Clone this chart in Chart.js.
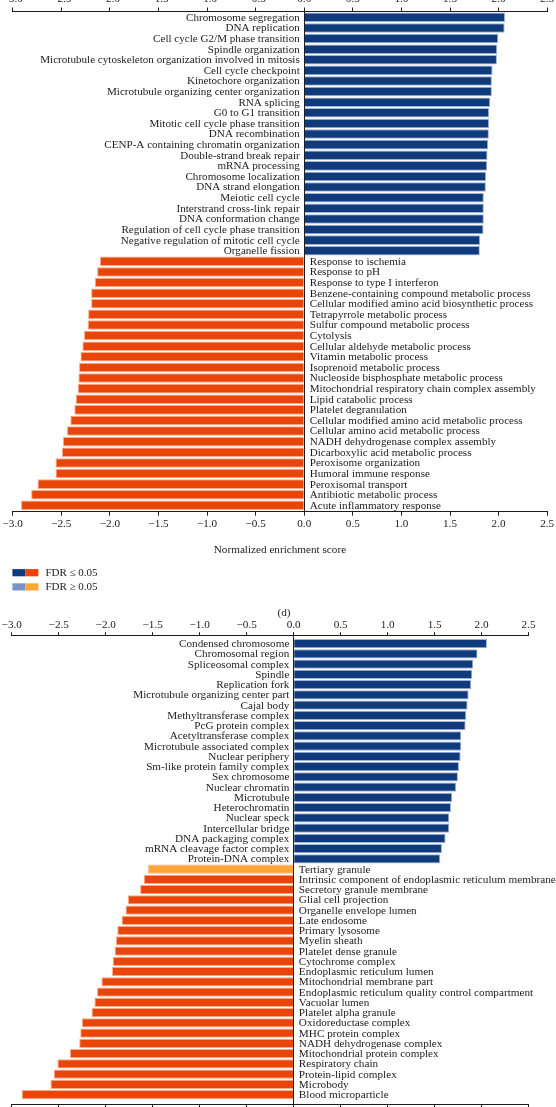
<!DOCTYPE html>
<html>
<head>
<meta charset="utf-8">
<script src="https://cdn.jsdelivr.net/npm/chart.js@4.4.0/dist/chart.umd.min.js"></script>
<style>
html,body{margin:0;padding:0;background:#fff;}
body{width:556px;height:1107px;overflow:hidden;position:relative;}
canvas{position:absolute;left:0;}
#c1{top:0px;}
#c2{top:620px;}
</style>
</head>
<body>
<canvas id="c1" width="556" height="620"></canvas>
<canvas id="c2" width="556" height="514"></canvas>
<script>
// ---------- data ----------
const xTickValues = [-3.0, -2.5, -2.0, -1.5, -1.0, -0.5, 0.0, 0.5, 1.0, 1.5, 2.0, 2.5];

const bpCategories = [
  "Chromosome segregation","DNA replication","Cell cycle G2/M phase transition","Spindle organization",
  "Microtubule cytoskeleton organization involved in mitosis","Cell cycle checkpoint","Kinetochore organization",
  "Microtubule organizing center organization","RNA splicing","G0 to G1 transition","Mitotic cell cycle phase transition",
  "DNA recombination","CENP-A containing chromatin organization","Double-strand break repair","mRNA processing",
  "Chromosome localization","DNA strand elongation","Meiotic cell cycle","Interstrand cross-link repair",
  "DNA conformation change","Regulation of cell cycle phase transition","Negative regulation of mitotic cell cycle",
  "Organelle fission",
  "Response to ischemia","Response to pH","Response to type I interferon","Benzene-containing compound metabolic process",
  "Cellular modified amino acid biosynthetic process","Tetrapyrrole metabolic process","Sulfur compound metabolic process",
  "Cytolysis","Cellular aldehyde metabolic process","Vitamin metabolic process","Isoprenoid metabolic process",
  "Nucleoside bisphosphate metabolic process","Mitochondrial respiratory chain complex assembly","Lipid catabolic process",
  "Platelet degranulation","Cellular modified amino acid metabolic process","Cellular amino acid metabolic process",
  "NADH dehydrogenase complex assembly","Dicarboxylic acid metabolic process","Peroxisome organization",
  "Humoral immune response","Peroxisomal transport","Antibiotic metabolic process","Acute inflammatory response"
];
const bpValues = [
  2.066, 2.062, 1.997, 1.986, 1.983, 1.938, 1.931, 1.931, 1.914, 1.903, 1.903, 1.900,
  1.893, 1.886, 1.883, 1.872, 1.869, 1.848, 1.848, 1.848, 1.845, 1.810, 1.807,
  -2.103, -2.131, -2.155, -2.193, -2.193, -2.224, -2.228, -2.266, -2.283, -2.303, -2.317, -2.324,
  -2.331, -2.352, -2.366, -2.407, -2.441, -2.483, -2.493, -2.559, -2.559, -2.745, -2.810, -2.914
];
const bpSignificant = bpValues.map(() => true);

const ccCategories = [
  "Condensed chromosome","Chromosomal region","Spliceosomal complex","Spindle","Replication fork",
  "Microtubule organizing center part","Cajal body","Methyltransferase complex","PcG protein complex",
  "Acetyltransferase complex","Microtubule associated complex","Nuclear periphery","Sm-like protein family complex",
  "Sex chromosome","Nuclear chromatin","Microtubule","Heterochromatin","Nuclear speck","Intercellular bridge",
  "DNA packaging complex","mRNA cleavage factor complex","Protein-DNA complex",
  "Tertiary granule","Intrinsic component of endoplasmic reticulum membrane","Secretory granule membrane",
  "Glial cell projection","Organelle envelope lumen","Late endosome","Primary lysosome","Myelin sheath",
  "Platelet dense granule","Cytochrome complex","Endoplasmic reticulum lumen","Mitochondrial membrane part",
  "Endoplasmic reticulum quality control compartment","Vacuolar lumen","Platelet alpha granule",
  "Oxidoreductase complex","MHC protein complex","NADH dehydrogenase complex","Mitochondrial protein complex",
  "Respiratory chain","Protein-lipid complex","Microbody","Blood microparticle"
];
const ccValues = [
  2.057, 1.957, 1.911, 1.901, 1.890, 1.862, 1.851, 1.837, 1.830, 1.784, 1.784, 1.777,
  1.759, 1.748, 1.730, 1.688, 1.674, 1.656, 1.656, 1.617, 1.578, 1.560,
  -1.549, -1.595, -1.634, -1.764, -1.789, -1.831, -1.877, -1.891, -1.905, -1.926, -1.933,
  -2.046, -2.092, -2.120, -2.151, -2.254, -2.271, -2.282, -2.380, -2.514, -2.553, -2.588, -2.894
];
const ccSignificant = ccValues.map((v, i) => ccCategories[i] !== "Tertiary granule");

const legendLabels = ["FDR \u2264 0.05", "FDR \u2265 0.05"];
const panelLabel = "(d)";

// ---------- styling ----------
const COLORS = {
  upSig: '#0f3a7b', upNs: '#7895c6', downSig: '#ea4508', downNs: '#fca535',
  upBorder: '#9fb3d8', downBorder: '#f5ad8c', text: '#1e1b1c'
};
const FONT_FAMILY = '"Liberation Serif", "Times New Roman", serif';
Chart.defaults.font.family = FONT_FAMILY;
Chart.defaults.font.size = 11.2;
Chart.defaults.color = COLORS.text;

const fmt = v => (v < 0 ? '\u2212' : '') + Math.abs(v).toFixed(1);

const labelPlugin = {
  id: 'termLabels',
  afterDatasetsDraw(chart, args, opts) {
    const {ctx, scales: {x, y}} = chart;
    const x0 = x.getPixelForValue(0);
    const data = chart.data.datasets[0].data;
    ctx.save();
    ctx.font = opts.fontSize + 'px ' + FONT_FAMILY;
    ctx.fillStyle = COLORS.text;
    ctx.textBaseline = 'middle';
    chart.data.labels.forEach((lab, i) => {
      const py = y.getPixelForValue(i);
      if (data[i].x >= 0) { ctx.textAlign = 'right'; ctx.fillText(lab, x0 - opts.gapLeft, py + 0.5); }
      else { ctx.textAlign = 'left'; ctx.fillText(lab, x0 + opts.gapRight, py + 0.5); }
    });
    ctx.restore();
  }
};

// legend with paired swatches + panel tag, drawn under the first chart
const fdrLegendPlugin = {
  id: 'fdrLegend',
  afterDraw(chart, args, opts) {
    if (!opts.show) return;
    const ctx = chart.ctx;
    ctx.save();
    const rows = [[COLORS.upSig, COLORS.downSig], [COLORS.upNs, COLORS.downNs]];
    rows.forEach((pair, r) => {
      const y = opts.y + r * opts.rowGap;
      ctx.fillStyle = pair[0]; ctx.fillRect(opts.x, y - 3.6, 13, 7.2);
      ctx.fillStyle = pair[1]; ctx.fillRect(opts.x + 13, y - 3.6, 13, 7.2);
      ctx.fillStyle = COLORS.text;
      ctx.font = '11px ' + FONT_FAMILY;
      ctx.textAlign = 'left'; ctx.textBaseline = 'middle';
      ctx.fillText(legendLabels[r], opts.x + 33, y + 0.5);
    });
    ctx.font = '11.2px ' + FONT_FAMILY;
    ctx.textAlign = 'center'; ctx.textBaseline = 'middle';
    ctx.fillText(panelLabel, opts.tagX, opts.tagY);
    ctx.restore();
  }
};

function xAxis(position, cfg) {
  return {
    type: 'linear', position: position, min: -3, max: 2.5,
    afterBuildTicks: s => { s.ticks = xTickValues.map(v => ({value: v})); },
    afterFit: s => { s.height = cfg.height; },
    ticks: { callback: fmt, padding: cfg.pad, maxRotation: 0, autoSkip: false, font: {size: 11.2} },
    grid: {
      drawOnChartArea: position === 'bottom',
      color: c => (c.tick && c.tick.value === 0) ? COLORS.text : 'rgba(0,0,0,0)',
      tickColor: COLORS.text, tickLength: cfg.tl, lineWidth: 1
    },
    border: { display: true, color: COLORS.text, width: 1 },
    title: cfg.title ? { display: true, text: cfg.title, font: {size: 11.2}, padding: {top: 0, bottom: 0.7} } : { display: false },
    z: 1
  };
}

function makeChart(id, cats, vals, sig, cfg) {
  const colors = vals.map((v, i) => v >= 0 ? (sig[i] ? COLORS.upSig : COLORS.upNs) : (sig[i] ? COLORS.downSig : COLORS.downNs));
  const borders = vals.map(v => v >= 0 ? COLORS.upBorder : COLORS.downBorder);
  return new Chart(document.getElementById(id), {
    type: 'bar',
    plugins: [labelPlugin, fdrLegendPlugin],
    data: {
      labels: cats,
      datasets: [{
        data: vals.map((v, i) => ({x: v, y: i})),
        backgroundColor: colors,
        borderColor: borders,
        borderWidth: 1,
        borderSkipped: 'start',
        categoryPercentage: cfg.catPct,
        barPercentage: 1
      }]
    },
    options: {
      indexAxis: 'y',
      responsive: false,
      animation: false,
      events: [],
      layout: { padding: { left: cfg.left, right: cfg.right, top: 0, bottom: cfg.bottomPad } },
      plugins: {
        legend: { display: false }, tooltip: { enabled: false },
        termLabels: { fontSize: cfg.labelSize, gapLeft: cfg.gapLeft, gapRight: cfg.gapRight },
        fdrLegend: cfg.legend || { show: false }
      },
      scales: {
        y: {
          type: 'linear', display: false, reverse: true, min: cfg.ymin, max: cfg.ymax,
          offset: false, grace: 0, bounds: 'data',
          grid: { offset: false },
          afterBuildTicks: s => { s.ticks = cats.map((c, i) => ({value: i})); },
          afterDataLimits: s => { s.min = cfg.ymin; s.max = cfg.ymax; }
        },
        x: xAxis('bottom', cfg.bottomAxis),
        x2: xAxis('top', cfg.topAxis)
      }
    }
  });
}

makeChart('c1', bpCategories, bpValues, bpSignificant, {
  left: 12.7, right: 8.8, bottomPad: 63, ymin: -0.55, ymax: 46.6, catPct: 0.9,
  labelSize: 11.1, gapLeft: 4.5, gapRight: 5.5,
  topAxis: { height: 11.5, tl: 4, pad: 1.6 },
  bottomAxis: { height: 45.3, tl: 4, pad: 1.6, title: 'Normalized enrichment score' },
  legend: { show: true, x: 12.4, y: 572.7, rowGap: 14.2, tagX: 284, tagY: 613 }
});

makeChart('c2', ccCategories, ccValues, ccSignificant, {
  left: 9.7, right: 27.4, bottomPad: 0, ymin: -0.78, ymax: 44.94, catPct: 0.91,
  labelSize: 11.2, gapLeft: 4.3, gapRight: 5.2,
  topAxis: { height: 15.7, tl: 3.5, pad: 0.2 },
  bottomAxis: { height: 29.7, tl: 3.5, pad: 1.6 }
});
</script>
</body>
</html>
